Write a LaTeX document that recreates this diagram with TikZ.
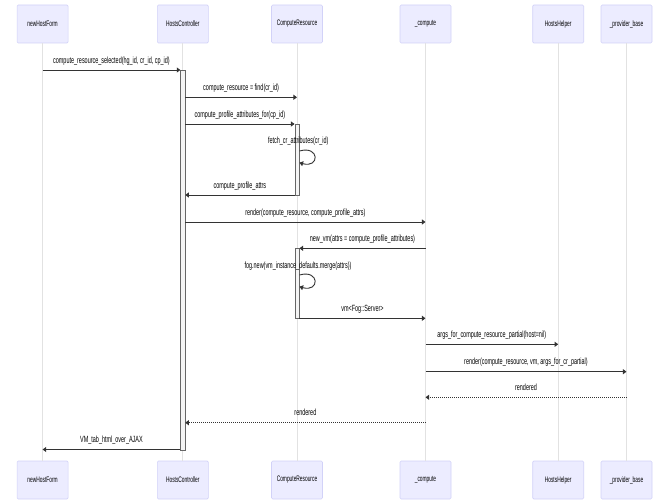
\documentclass[tikz,border=0pt]{standalone}
\usepackage{fontspec}
\setmainfont{Liberation Sans}
\newfontfamily\msgfont{Liberation Sans}[FakeStretch=0.607]
\usetikzlibrary{arrows.meta}
\definecolor{actfill}{HTML}{ECECFF}
\definecolor{actdraw}{HTML}{D2D2F8}
\definecolor{lifecol}{HTML}{E2E2E2}
\definecolor{barfill}{HTML}{F4F4F4}
\definecolor{bardraw}{HTML}{666666}
\definecolor{msgcol}{HTML}{333333}
\tikzset{
  actor/.style={draw=actdraw, fill=actfill, line width=0.6pt, rounded corners=1.2pt,
    minimum width=51pt, minimum height=38pt, inner sep=0pt,
    font={\msgfont\fontsize{8}{9}\selectfont}},
  lifeln/.style={draw=lifecol, line width=0.7pt},
  actbar/.style={draw=bardraw, fill=barfill, line width=0.5pt, minimum width=4.4pt, inner sep=0pt},
  msg/.style={draw=msgcol, line width=0.9pt, -{Triangle[length=3.6pt,width=5pt]}},
  reply/.style={msg, dash pattern=on 1pt off 1pt},
  lbl/.style={font={\msgfont\fontsize{9}{10}\selectfont}, inner sep=0pt, anchor=south,
    above=4.5pt, text height=6.6pt, text depth=1.9pt},
  selflbl/.style={font={\msgfont\fontsize{9}{10}\selectfont}, inner sep=0pt,
    text height=6.6pt, text depth=1.9pt}
}
\begin{document}
\begin{tikzpicture}[x=1pt,y=-1pt]
\fill[white] (0,0) rectangle (669,500);
\useasboundingbox (0,0) rectangle (669,500);
% participants
\node[actor] (nhfT) at (42.6,24) {newHostForm};
\node[actor] (hcT) at (182.8,24) {HostsController};
\node[actor] (crT) at (297,24) {ComputeResource};
\node[actor] (cpT) at (425.5,24) {\_compute};
\node[actor] (hhT) at (558.2,24) {HostsHelper};
\node[actor] (pbT) at (626.5,24) {\_provider\_base};
\node[actor] (nhfB) at (42.6,480) {newHostForm};
\node[actor] (hcB) at (182.8,480) {HostsController};
\node[actor] (crB) at (297,480) {ComputeResource};
\node[actor] (cpB) at (425.5,480) {\_compute};
\node[actor] (hhB) at (558.2,480) {HostsHelper};
\node[actor] (pbB) at (626.5,480) {\_provider\_base};
% lifelines
\draw[lifeln] (nhfT.south) -- (nhfB.north);
\draw[lifeln] (hcT.south) -- (hcB.north);
\draw[lifeln] (crT.south) -- (crB.north);
\draw[lifeln] (cpT.south) -- (cpB.north);
\draw[lifeln] (hhT.south) -- (hhB.north);
\draw[lifeln] (pbT.south) -- (pbB.north);
% activation bars
\node[actbar, minimum height=380pt] (hcbar) at (182.8,260) {};
\node[actbar, minimum height=71pt] (crbarA) at (297,159.5) {};
\node[actbar, minimum height=70pt] (crbarB) at (297,283.3) {};
% rows
\coordinate (r1) at (0,70);
\coordinate (r2) at (0,97.3);
\coordinate (r3) at (0,124);
\coordinate (r4) at (0,195);
\coordinate (r5) at (0,222);
\coordinate (r6) at (0,248.3);
\coordinate (r7) at (0,318.3);
\coordinate (r8) at (0,344.3);
\coordinate (r9) at (0,371.7);
\coordinate (r10) at (0,397.3);
\coordinate (r11) at (0,422.7);
\coordinate (r12) at (0,449.5);
\coordinate (s1a) at (crbarA.east |- 0,151);
\coordinate (s1b) at (crbarA.east |- 0,162.7);
\coordinate (s2a) at (crbarB.east |- 0,275);
\coordinate (s2b) at (crbarB.east |- 0,286.7);
% messages
\draw[msg] (nhfT |- r1) -- node[lbl] {compute\_resource\_selected(hg\_id, cr\_id, cp\_id)} (hcbar.west |- r1);
\draw[msg] (hcbar.east |- r2) -- node[lbl] {compute\_resource = find(cr\_id)} (crT |- r2);
\draw[msg] (hcbar.east |- r3) -- node[lbl] {compute\_profile\_attributes\_for(cp\_id)} (crbarA.west |- r3);
\node[selflbl] (l1) at (298.3,141) {fetch\_cr\_attributes(cr\_id)};
\draw[msg] (s1a) .. controls +(20.4,-5.85) and +(20.4,5.9) .. (s1b);
\draw[msg] (crbarA.west |- r4) -- node[lbl] {compute\_profile\_attrs} (hcbar.east |- r4);
\draw[msg] (hcbar.east |- r5) -- node[lbl] {render(compute\_resource, compute\_profile\_attrs)} (cpT |- r5);
\draw[msg] (cpT |- r6) -- node[lbl] {new\_vm(attrs = compute\_profile\_attributes)} (crbarB.east |- r6);
\node[selflbl] (l2) at (298,265.7) {fog.new(vm\_instance\_defaults.merge(attrs))};
\draw[msg] (s2a) .. controls +(20.4,-5.85) and +(20.4,5.9) .. (s2b);
\draw[msg] (crbarB.east |- r7) -- node[lbl] {vm<Fog::Server>} (cpT |- r7);
\draw[msg] (cpT |- r8) -- node[lbl] {args\_for\_compute\_resource\_partial(host=nil)} (hhT |- r8);
\draw[msg] (cpT |- r9) -- node[lbl] {render(compute\_resource, vm, args\_for\_cr\_partial)} (pbT |- r9);
\draw[reply] (pbT |- r10) -- node[lbl] {rendered} (cpT |- r10);
\draw[reply] (cpT |- r11) -- node[lbl] {rendered} (hcbar.east |- r11);
\draw[msg] (hcbar.west |- r12) -- node[lbl] {VM\_tab\_html\_over\_AJAX} (nhfT |- r12);
\end{tikzpicture}
\end{document}
